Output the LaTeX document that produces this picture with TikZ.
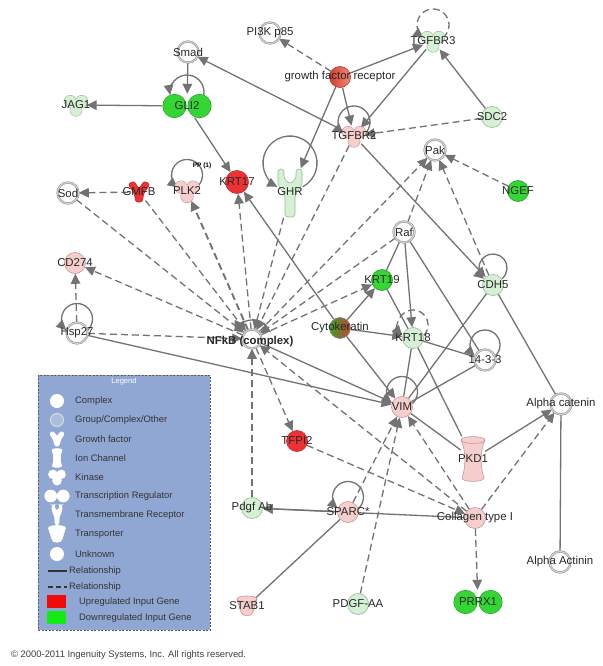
\documentclass[tikz,border=0pt]{standalone}
\usepackage{fontspec}
\setmainfont{Liberation Sans}
\usetikzlibrary{arrows.meta,shapes.geometric}
\pgfdeclarelayer{bg}
\pgfdeclarelayer{fg}
\pgfsetlayers{bg,main,fg}
\definecolor{edgec}{RGB}{115,115,115}
\definecolor{gfill}{RGB}{52,214,52}
\definecolor{gdraw}{RGB}{45,150,45}
\definecolor{pgfill}{RGB}{214,240,214}
\definecolor{pgdraw}{RGB}{145,190,145}
\definecolor{rfill}{RGB}{236,50,50}
\definecolor{rdraw}{RGB}{190,45,45}
\definecolor{ppfill}{RGB}{246,206,206}
\definecolor{ppdraw}{RGB}{200,150,150}
\definecolor{grring}{RGB}{150,150,150}
\definecolor{grinner}{RGB}{215,215,215}
\definecolor{legbg}{RGB}{145,167,211}
\definecolor{txt}{RGB}{40,40,40}
\definecolor{cytg}{RGB}{55,160,40}
\definecolor{cytr}{RGB}{200,65,50}
\definecolor{gfra}{RGB}{212,62,50}
\definecolor{gfrb}{RGB}{238,140,120}
\definecolor{upred}{RGB}{240,10,10}
\definecolor{dngreen}{RGB}{20,235,20}

\newcommand\kinase[4]{%
  \begin{scope}[shift={(#1)},scale=#4]
    \draw[draw=#3,line width=1.1pt] (-5.5,-3.5) circle[radius=5.5] (5.5,-3.5) circle[radius=5.5] (0,5) circle[radius=5.5];
    \fill[#2] (-5.5,-3.5) circle[radius=5.5] (5.5,-3.5) circle[radius=5.5] (0,5) circle[radius=5.5] (0,0) circle[radius=5];
  \end{scope}}
\newcommand\trshape[4]{%
  \begin{scope}[shift={(#1)},scale=#4]
    \draw[draw=#3,line width=1.1pt] (-12.5,0) circle[radius=11.5] (12.5,0) circle[radius=11.5];
    \fill[#2] (-12.5,0) circle[radius=11.5] (12.5,0) circle[radius=11.5];
  \end{scope}}
\newcommand\gfshape[4]{%
  \begin{scope}[shift={(#1)},scale=#4]
    \draw[fill=#2,draw=#3,line width=0.6pt,rounded corners=2.5pt] (-11,-8) -- (-5,-11) -- (0,-3) -- (5,-11) -- (11,-8) -- (4.5,2) -- (3.5,10) -- (-3.5,10) -- (-4.5,2) -- cycle;
  \end{scope}}
\newcommand\tmshape[4]{%
  \begin{scope}[shift={(#1)},scale=#4]
    \draw[fill=#2,draw=#3,line width=0.6pt,rounded corners=3pt] (-12,-24) -- (-12,-8) -- (-5,2) -- (-5,24) -- (5,24) -- (5,2) -- (12,-8) -- (12,-24) -- (6,-24) -- (6,-14) -- (0,-9) -- (-6,-14) -- (-6,-24) -- cycle;
  \end{scope}}
\newcommand\icshape[4]{%
  \begin{scope}[shift={(#1)},scale=#4]
    \draw[fill=#2,draw=#3,line width=0.6pt] (-12,-19) .. controls (-7,-8) and (-7,8) .. (-11,19) .. controls (-11,23.5) and (11,23.5) .. (11,19) .. controls (7,8) and (7,-8) .. (12,-19) .. controls (12,-23.5) and (-12,-23.5) .. (-12,-19) -- cycle;
    \draw[draw=#3,line width=0.6pt] (-12,-19) .. controls (-12,-14.5) and (12,-14.5) .. (12,-19);
  \end{scope}}
\newcommand\tpshape[4]{%
  \begin{scope}[shift={(#1)},scale=#4]
    \draw[fill=#2,draw=#3,line width=0.6pt] (-10,-7) -- (-6,6) .. controls (-6,11) and (6,11) .. (6,6) -- (10,-7) .. controls (10,-11) and (-10,-11) .. (-10,-7) -- cycle;
    \draw[draw=#3,line width=0.6pt] (-10,-7) .. controls (-10,-3) and (10,-3) .. (10,-7);
  \end{scope}}
\newcommand\sloop[5]{%
  \draw[#5] ([shift={({#3*cos(#4)},{-(#2)+#3*sin(#4)})}]#1.center) arc[start angle=#4,end angle={-180-(#4)},radius=#3];}

\tikzset{
  base/.style={circle,inner sep=0pt,minimum size=21pt},
  grp/.style={base,fill=white,draw=grring,double=grinner,double distance=1pt,line width=0.6pt},
  gr/.style={base,fill=gfill,draw=gdraw,line width=0.6pt},
  pg/.style={base,fill=pgfill,draw=pgdraw,line width=0.6pt},
  rd/.style={base,fill=rfill,draw=rdraw,line width=0.6pt},
  pp/.style={base,fill=ppfill,draw=ppdraw,line width=0.6pt},
  anch/.style={base},
  lbl/.style={font=\fontsize{11.4}{13}\selectfont,text=txt,inner sep=0pt},
  legtxt/.style={font=\fontsize{9.4}{11}\selectfont,text=black!80,inner sep=0pt,anchor=west},
  sedge/.style={draw=edgec,line width=1.3pt,-{Triangle[length=10pt,width=9.5pt]}},
  sline/.style={draw=edgec,line width=1.3pt},
  dedge/.style={sedge,dash pattern=on 7pt off 4pt},
  dline/.style={sline,dash pattern=on 7pt off 4pt},
}

\begin{document}
\begin{tikzpicture}[x=1pt,y=-1pt]
\useasboundingbox (0,0) rectangle (602,666);
\begin{pgfonlayer}{bg}
\fill[white] (0,0) rectangle (602,666);
\end{pgfonlayer}

% ---------------- nodes ----------------
\node[grp] (pi3k) at (270,33) {};
\node[grp] (smad) at (188,52) {};
\node[base,draw=rdraw,line width=0.6pt,left color=gfra,right color=gfrb] (gfr) at (340,77) {};
\node[anch] (tgfbr3) at (433,41) {};
\kinase{tgfbr3}{pgfill}{pgdraw}{1.05}
\node[anch] (jag1) at (76,105) {};
\kinase{jag1}{pgfill}{pgdraw}{1.05}
\node[ellipse,minimum width=50pt,minimum height=24pt,inner sep=0pt] (gli2) at (187,106) {};
\trshape{gli2}{gfill}{gdraw}{1}
\node[anch] (tgfbr2) at (354,136) {};
\kinase{tgfbr2}{ppfill}{ppdraw}{1.05}
\node[pg] (sdc2) at (492,117) {};
\node[grp] (pak) at (435,150) {};
\node[gr] (ngef) at (518,191) {};
\node[grp] (sod) at (68,193) {};
\node[anch] (gmfb) at (139,192) {};
\gfshape{gmfb}{rfill}{rdraw}{1}
\node[anch] (plk2) at (187,191) {};
\kinase{plk2}{ppfill}{ppdraw}{1.1}
\node[rd,minimum size=23pt] (krt17) at (237,182) {};
\node[rectangle,minimum width=24pt,minimum height=49pt,inner sep=0pt] (ghr) at (290,193) {};
\tmshape{ghr}{pgfill}{pgdraw}{1}
\node[grp] (raf) at (404,232) {};
\node[pp] (cd274) at (75,263) {};
\node[gr] (krt19) at (382,280) {};
\node[pg] (cdh5) at (493,285) {};
\node[base,draw=black!45,line width=0.6pt,left color=cytg,right color=cytr] (cytok) at (340,328) {};
\node[pg] (krt18) at (413,338) {};
\node[grp] (hsp27) at (77,333) {};
\node[grp,minimum size=19pt] (nfkb) at (252,339) {};
\node[grp] (t1433) at (485,360) {};
\node[pp] (vim) at (402,407) {};
\node[grp] (acat) at (561,404) {};
\node[rd] (tfpi2) at (297,441) {};
\node[rectangle,minimum width=24pt,minimum height=45pt,inner sep=0pt] (pkd1) at (473,459) {};
\icshape{pkd1}{ppfill}{ppdraw}{1}
\node[pg] (pdgfab) at (252,508) {};
\node[pp] (sparc) at (348,512) {};
\node[pp] (coll) at (475,518) {};
\node[grp] (aact) at (560,562) {};
\node[anch,minimum size=20pt] (stab1) at (247,606) {};
\tpshape{stab1}{ppfill}{ppdraw}{1}
\node[pg] (pdgfaa) at (358,604) {};
\node[ellipse,minimum width=50pt,minimum height=24pt,inner sep=0pt] (prrx1) at (478,602) {};
\trshape{prrx1}{gfill}{gdraw}{1}

% ---------------- edges ----------------
\begin{pgfonlayer}{bg}
% solid with arrow
\draw[sedge] (smad) -- (gli2);
\draw[sedge] (tgfbr2) -- (smad);
\draw[sedge] (gfr) -- (tgfbr3);
\draw[sedge] (gfr) -- (tgfbr2);
\draw[sedge] (gfr) -- (ghr);
\draw[sedge] (tgfbr3) -- (tgfbr2);
\draw[sedge] (sdc2) -- (tgfbr3);
\draw[sedge] (gli2) -- (jag1);
\draw[sedge] (gli2) -- (krt17);
\draw[sedge] (tgfbr2) -- (cdh5);
\draw[sedge] (cytok) -- (krt17);
\draw[sedge] (cytok) -- (krt19);
\draw[sedge] (cytok) -- (krt18);
\draw[sedge] (raf) -- (krt18);
\draw[sedge] (hsp27) -- (vim);
\draw[sedge] (nfkb) -- (vim);
\draw[sedge] (cytok) -- (vim);
\draw[sedge] (pkd1) -- (acat);
\draw[sedge] (coll) -- (pdgfab);
\draw[sedge] (sparc) -- (pdgfab);
% solid without arrow
\draw[sline] (raf) -- (krt19);
\draw[sline] (raf) -- (t1433);
\draw[sline] (krt19) -- (krt18);
\draw[sline] (krt18) -- (t1433);
\draw[sline] (t1433) -- (vim);
\draw[sline] (cdh5) -- (vim);
\draw[sline] (krt18) -- (vim);
\draw[sline] (krt18) -- (pkd1);
\draw[sline] (vim) -- (pkd1);
\draw[sline] (cdh5) -- (acat);
\draw[sline] (acat) -- (aact);
\draw[sline] (stab1) -- (sparc);
% dashed with arrow
\draw[dedge] (gfr) -- (pi3k);
\draw[dedge] (sdc2) -- (tgfbr2);
\draw[dedge] (ngef) -- (pak);
\draw[dedge] (nfkb) -- (pak);
\draw[dedge] (raf) -- (pak);
\draw[dedge] (cdh5) -- (pak);
\draw[dedge] (gmfb) -- (sod);
\draw[dedge] (sod) -- (nfkb);
\draw[dedge] (gmfb) -- (nfkb);
\draw[dedge,line width=1.9pt] (nfkb) -- (plk2);
\draw[dedge] (nfkb) -- (krt17);
\draw[dedge] (ghr) -- (nfkb);
\draw[dedge] (tgfbr2) -- (nfkb);
\draw[dedge] (raf) -- (nfkb);
\draw[dedge] (nfkb) -- (krt19);
\draw[dedge] (nfkb) -- (cd274);
\draw[dedge] (hsp27) -- (cd274);
\draw[dedge] (hsp27) -- (nfkb);
\draw[dedge] (nfkb) -- (tfpi2);
\draw[dedge] (pdgfab) -- (nfkb);
\draw[dedge] (coll) -- (nfkb);
\draw[dedge] (tfpi2) -- (coll);
\draw[dedge] (sparc) -- (vim);
\draw[dedge] (pdgfaa) -- (vim);
\draw[dedge] (coll) -- (vim);
\draw[dedge] (coll) -- (acat);
\draw[dedge] (coll) -- (prrx1);
% self loops
\sloop{tgfbr3}{16}{16}{53}{dedge}
\sloop{gli2}{14}{17}{10}{sedge}
\sloop{tgfbr2}{14}{16}{47}{sedge}
\sloop{plk2}{16}{15.5}{53}{sedge}
\sloop{ghr}{30}{27}{62}{sedge}
\sloop{cdh5}{17}{14}{50}{sedge}
\sloop{krt18}{13}{15}{44}{dedge}
\sloop{hsp27}{14}{15.5}{46}{sedge}
\sloop{nfkb}{0}{19}{-25}{sedge}
\sloop{t1433}{15}{15}{47}{sedge}
\sloop{vim}{15}{15.5}{48}{sedge}
\sloop{sparc}{15}{15.5}{48}{sedge}
\end{pgfonlayer}

% ---------------- labels ----------------
\begin{pgfonlayer}{fg}
\node[lbl] (l-pi3k) at (pi3k) {PI3K p85};
\node[lbl] (l-smad) at (smad) {Smad};
\node[lbl] (l-gfr) at (gfr) {growth factor receptor};
\node[lbl] (l-tgfbr3) at (tgfbr3) {TGFBR3};
\node[lbl] (l-jag1) at (jag1) {JAG1};
\node[lbl] (l-gli2) at (gli2) {GLI2};
\node[lbl] (l-tgfbr2) at (tgfbr2) {TGFBR2};
\node[lbl] (l-sdc2) at (sdc2) {SDC2};
\node[lbl] (l-pak) at (pak) {Pak};
\node[lbl] (l-ngef) at (ngef) {NGEF};
\node[lbl] (l-sod) at (sod) {Sod};
\node[lbl] (l-gmfb) at (gmfb) {GMFB};
\node[lbl] (l-plk2) at (plk2) {PLK2};
\node[font=\bfseries\fontsize{6.5}{7}\selectfont,text=black,inner sep=0pt] (pp1) at (202,166) {PP (1)};
\node[lbl] (l-krt17) at (krt17) {KRT17};
\node[lbl] (l-ghr) at (290,192) {GHR};
\node[lbl] (l-raf) at (raf) {Raf};
\node[lbl] (l-cd274) at (cd274) {CD274};
\node[lbl] (l-krt19) at (krt19) {KRT19};
\node[lbl] (l-cdh5) at (cdh5) {CDH5};
\node[lbl] (l-cytok) at (cytok) {Cytokeratin};
\node[lbl] (l-krt18) at (krt18) {KRT18};
\node[lbl] (l-hsp27) at (hsp27) {Hsp27};
\node[lbl,font=\bfseries\fontsize{11.4}{13}\selectfont] (l-nfkb) at (250,342) {NFkB (complex)};
\node[lbl] (l-t1433) at (t1433) {14-3-3};
\node[lbl] (l-vim) at (vim) {VIM};
\node[lbl] (l-acat) at (acat) {Alpha catenin};
\node[lbl] (l-tfpi2) at (tfpi2) {TFPI2};
\node[lbl] (l-pkd1) at (pkd1) {PKD1};
\node[lbl] (l-pdgfab) at (pdgfab) {Pdgf Ab};
\node[lbl] (l-sparc) at (sparc) {SPARC*};
\node[lbl] (l-coll) at (coll) {Collagen type I};
\node[lbl] (l-aact) at (aact) {Alpha Actinin};
\node[lbl] (l-stab1) at (stab1) {STAB1};
\node[lbl] (l-pdgfaa) at (pdgfaa) {PDGF-AA};
\node[lbl] (l-prrx1) at (prrx1) {PRRX1};
\end{pgfonlayer}

% ---------------- legend ----------------
\node[draw=black!65,dash pattern=on 2pt off 1.5pt,fill=legbg,line width=0.6pt,minimum width=172pt,minimum height=255pt,inner sep=0pt,anchor=north west] (legend) at (38,375) {};
\node[font=\fontsize{7.5}{9}\selectfont,text=white,inner sep=0pt] (legtitle) at (124,382) {Legend};
\fill[white] (57,401) circle[radius=7];
\draw[draw=grinner,line width=1.2pt,fill=legbg!75!white] (57,420) circle[radius=6.5];
\gfshape{57,439}{white}{white}{0.7}
\icshape{57,458}{white}{white}{0.42}
\kinase{57,477}{white}{white}{0.75}
\trshape{57,496}{white}{white}{0.5}
\tmshape{57,515}{white}{white}{0.42}
\tpshape{57,534}{white}{white}{0.85}
\fill[white] (57,554) circle[radius=7];
\node[legtxt] (lg1) at (75,401) {Complex};
\node[legtxt] (lg2) at (75,420) {Group/Complex/Other};
\node[legtxt] (lg3) at (75,439) {Growth factor};
\node[legtxt] (lg4) at (75,458) {Ion Channel};
\node[legtxt] (lg5) at (75,477) {Kinase};
\node[legtxt] (lg6) at (75,496) {Transcription Regulator};
\node[legtxt] (lg7) at (75,515) {Transmembrane Receptor};
\node[legtxt] (lg8) at (75,534) {Transporter};
\node[legtxt] (lg9) at (75,554) {Unknown};
\draw[draw=black!80,line width=1.5pt] (48,571) -- (67,571);
\node[legtxt] (lg10) at (69,571) {Relationship};
\draw[draw=black!80,line width=1.5pt,dash pattern=on 5pt off 3pt] (48,587) -- (67,587);
\node[legtxt] (lg11) at (69,587) {Relationship};
\fill[upred] (47,595) rectangle (66,608);
\node[legtxt] (lg12) at (79,602) {Upregulated Input Gene};
\fill[dngreen] (47,611) rectangle (66,624);
\node[legtxt] (lg13) at (79,618) {Downregulated Input Gene};

\node[anchor=west,font=\fontsize{9.4}{11}\selectfont,text=black!75,inner sep=0pt] (copy) at (11,655) {© 2000-2011 Ingenuity Systems, Inc. All rights reserved.};
\end{tikzpicture}
\end{document}
